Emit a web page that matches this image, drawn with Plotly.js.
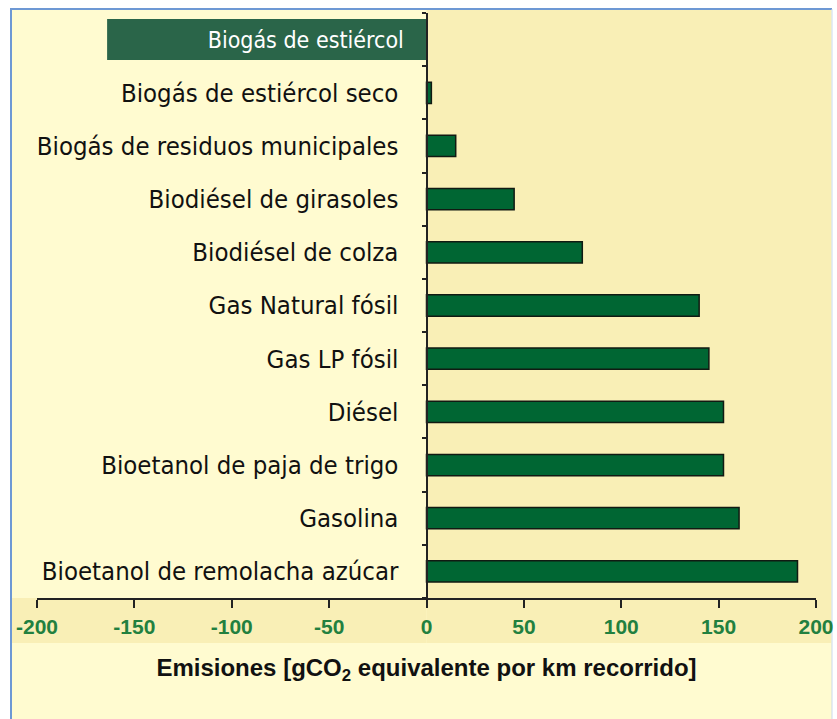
<!DOCTYPE html>
<html>
<head>
<meta charset="utf-8">
<script src="https://cdn.plot.ly/plotly-3.0.1.min.js"></script>
<style>
  html, body { margin: 0; padding: 0; background: #ffffff; }
  #chart { width: 837px; height: 719px; }
</style>
</head>
<body>
<div id="chart"></div>
<script>
// Categories, top to bottom
const categories = [
  "Biogás de estiércol",
  "Biogás de estiércol seco",
  "Biogás de residuos municipales",
  "Biodiésel de girasoles",
  "Biodiésel de colza",
  "Gas Natural fósil",
  "Gas LP fósil",
  "Diésel",
  "Bioetanol de paja de trigo",
  "Gasolina",
  "Bioetanol de remolacha azúcar"
];
// Emissions [gCO2 eq per km]
const emissions = [-164, 2.5, 15, 45, 80, 140, 145, 152.5, 152.5, 160.5, 190.5];
// Y tick labels (the negative category is labelled inside its bar)
const tickLabels = ["", "Biogás de estiércol seco", "Biogás de residuos municipales",
  "Biodiésel de girasoles", "Biodiésel de colza", "Gas Natural fósil", "Gas LP fósil",
  "Diésel", "Bioetanol de paja de trigo", "Gasolina", "Bioetanol de remolacha azúcar"];
const xTicks = [-200, -150, -100, -50, 0, 50, 100, 150, 200];

const negCats = [], negVals = [], negText = [];
const posCats = [], posVals = [];
categories.forEach((c, i) => {
  if (emissions[i] < 0) { negCats.push(c); negVals.push(emissions[i]); negText.push(c + "\u00A0\u00A0\u00A0"); }
  else { posCats.push(c); posVals.push(emissions[i]); }
});

const labelFont = "DejaVu Sans Condensed, DejaVu Sans, sans-serif";

const traces = [
  {
    type: "bar", orientation: "h",
    y: posCats, x: posVals,
    width: 0.4,
    marker: { color: "#006633", line: { color: "#111a12", width: 1.5 } },
    hoverinfo: "none"
  },
  {
    type: "bar", orientation: "h",
    y: negCats, x: negVals,
    width: 0.77,
    marker: { color: "#2a6549", line: { width: 0 } },
    text: negText,
    textposition: "inside",
    insidetextanchor: "start",
    constraintext: "none",
    textangle: 0,
    textfont: { family: labelFont, size: 23, color: "#ffffff" },
    hoverinfo: "none"
  }
];

// paper coordinate helpers (plot area: x 37..816, y 13..598)
const L = 37, W = 779, T = 13, H = 585;
const px = v => (v - L) / W;
const py = v => (T + H - v) / H;

const cream = "#fffbd0", yellow = "#f9efb6", blue = "#6d98d4";

const shapes = [
  // left cream panel behind labels
  { type: "rect", xref: "paper", yref: "paper", layer: "below", x0: px(11), x1: 0.5, y0: 0, y1: py(10), fillcolor: cream, line: { width: 0 } },
  // right yellow panel
  { type: "rect", xref: "paper", yref: "paper", layer: "below", x0: 0.5, x1: px(831), y0: py(643), y1: py(10), fillcolor: yellow, line: { width: 0 } },
  // yellow band below axis
  { type: "rect", xref: "paper", yref: "paper", layer: "below", x0: px(11), x1: 0.5, y0: py(643), y1: 0, fillcolor: yellow, line: { width: 0 } },
  // white margins
  { type: "rect", xref: "paper", yref: "paper", layer: "below", x0: px(0), x1: px(837), y0: py(0), y1: py(8), fillcolor: "#ffffff", line: { width: 0 } },
  { type: "rect", xref: "paper", yref: "paper", layer: "below", x0: px(0), x1: px(10), y0: py(719), y1: py(0), fillcolor: "#ffffff", line: { width: 0 } },
  { type: "rect", xref: "paper", yref: "paper", layer: "below", x0: px(832), x1: px(837), y0: py(719), y1: py(0), fillcolor: "#ffffff", line: { width: 0 } },
  // blue frame lines
  { type: "line", xref: "paper", yref: "paper", layer: "below", x0: px(10), x1: px(832), y0: py(9), y1: py(9), line: { color: blue, width: 2 } },
  { type: "line", xref: "paper", yref: "paper", layer: "below", x0: px(11), x1: px(11), y0: py(719), y1: py(9), line: { color: blue, width: 2 } },
  { type: "line", xref: "paper", yref: "paper", layer: "below", x0: px(832), x1: px(832), y0: py(719), y1: py(9), line: { color: "#c9d9ef", width: 1 } }
];

const layout = {
  width: 837, height: 719,
  margin: { l: L, r: 837 - L - W, t: T, b: 719 - T - H, pad: 0 },
  paper_bgcolor: cream,
  plot_bgcolor: "rgba(0,0,0,0)",
  showlegend: false,
  barmode: "overlay",
  xaxis: {
    range: [-200, 200],
    tickmode: "array", tickvals: xTicks, ticktext: xTicks.map(String),
    ticks: "outside", ticklen: 8, tickwidth: 2, tickcolor: "#222222",
    showline: true, linecolor: "#222222", linewidth: 2,
    showgrid: false, zeroline: false,
    tickfont: { family: "Liberation Sans, Arial, sans-serif", size: 21, color: "#22803f", weight: "bold" },
    ticklabelstandoff: 1,
    title: {
      text: "Emisiones [gCO<sub>2</sub> equivalente por km recorrido]",
      font: { family: "Liberation Sans, Arial, sans-serif", size: 24, color: "#111111", weight: "bold" },
      standoff: 22
    },
    fixedrange: true
  },
  yaxis: {
    type: "category",
    categoryorder: "array", categoryarray: categories,
    range: [categories.length - 0.5, -0.5],
    anchor: "free", position: 0.5, side: "left",
    tickmode: "array", tickvals: categories, ticktext: tickLabels,
    tickson: "boundaries",
    ticks: "outside", ticklen: 4, tickwidth: 2, tickcolor: "#222222",
    showline: true, linecolor: "#222222", linewidth: 2,
    showgrid: false, zeroline: false,
    ticklabelstandoff: 22,
    tickfont: { family: labelFont, size: 25.5, color: "#111111" },
    fixedrange: true
  },
  shapes: shapes
};

Plotly.newPlot("chart", traces, layout, { displayModeBar: false, staticPlot: true });
</script>
</body>
</html>
